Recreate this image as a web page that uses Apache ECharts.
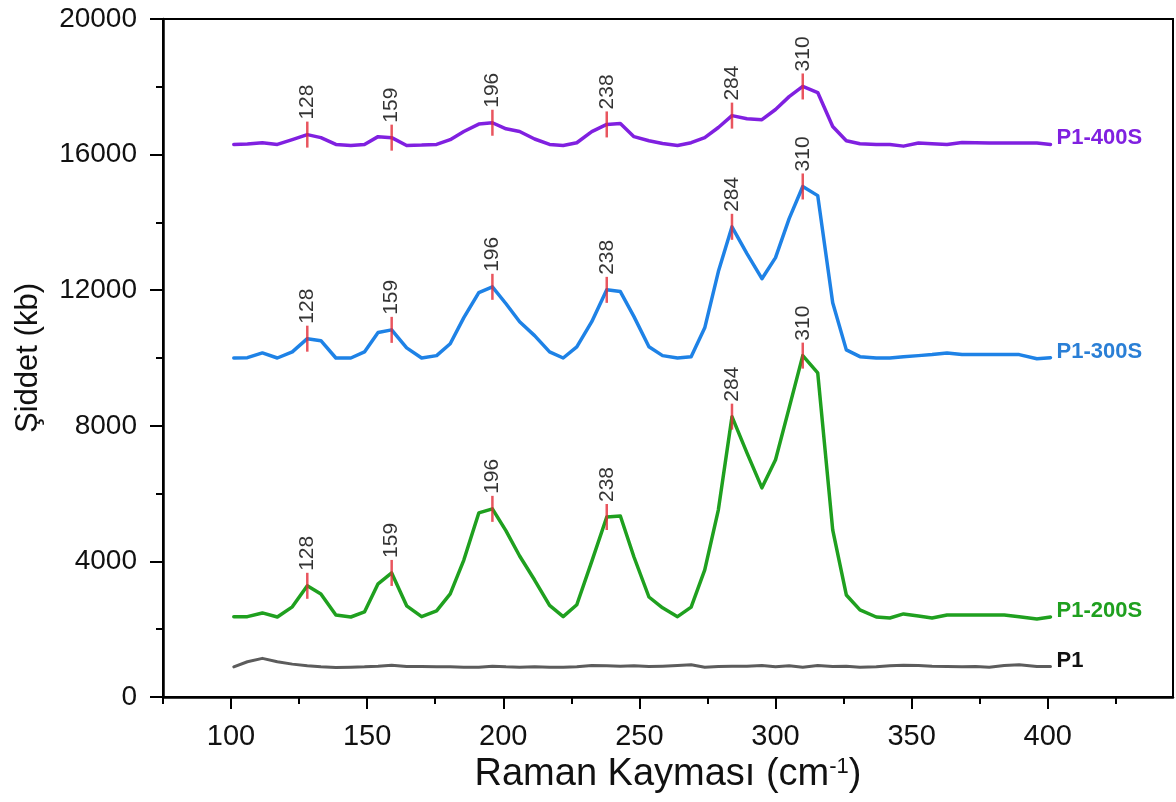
<!DOCTYPE html>
<html>
<head>
<meta charset="utf-8">
<title>Raman</title>
<script src="https://cdn.jsdelivr.net/npm/echarts@6/dist/echarts.min.js"></script>
<style>
  html, body { margin: 0; padding: 0; background: #fff; }
  #chart { width: 1176px; height: 802px; }
</style>
</head>
<body>
<div id="chart"></div>
<script>
// Raman shift sample positions (cm-1), shared by all spectra
const shift = [101, 106, 111.5, 117, 122.5, 128, 133, 138.5, 144, 149, 154, 159, 164.5, 170, 175.5, 180.5,
  185.5, 191, 196, 201, 206, 211.5, 217, 222, 227, 232.5, 238, 243, 248, 253.5, 258.5, 264, 269, 274, 279,
  284, 289.5, 295, 300, 305, 310, 315.5, 321, 326, 331, 337, 342, 347, 352.5, 357.5, 363, 368.5, 373.5,
  378.5, 384, 389.5, 396, 401];

// Intensities (counts), offset per sample as plotted
const p1 = [890, 1040, 1140, 1040, 970, 920, 890, 870, 880, 890, 910, 940, 900, 900, 890, 890,
  880, 880, 910, 890, 880, 890, 880, 880, 890, 930, 920, 910, 920, 900, 910, 930, 950, 880, 900,
  910, 910, 930, 890, 920, 880, 930, 900, 910, 880, 890, 920, 940, 930, 910, 900, 890, 900,
  880, 930, 950, 900, 900];

const p1_200s = [2370, 2370, 2480, 2360, 2660, 3280, 3040, 2420, 2360, 2510, 3340, 3660, 2690, 2370, 2540, 3040,
  4040, 5430, 5550, 4900, 4160, 3450, 2700, 2370, 2720, 4000, 5310, 5340, 4130, 2950, 2630, 2370, 2650, 3750, 5520,
  8270, 7200, 6170, 7000, 8530, 10070, 9560, 4930, 3010, 2570, 2360, 2330, 2450, 2390, 2330, 2420, 2420, 2420,
  2420, 2420, 2370, 2300, 2360];

const p1_300s = [10000, 10010, 10150, 10000, 10180, 10570, 10510, 10000, 10000, 10180, 10750, 10830, 10300, 10000, 10070, 10420,
  11190, 11930, 12100, 11600, 11070, 10660, 10180, 10000, 10330, 11070, 12010, 11960, 11220, 10330, 10070, 10000, 10040, 10890, 12550,
  13870, 13080, 12340, 12960, 14110, 15060, 14790, 11630, 10240, 10040, 10000, 10000, 10040, 10070, 10100, 10150, 10100, 10100,
  10100, 10100, 10100, 9980, 10010];

const p1_400s = [16300, 16310, 16350, 16300, 16440, 16590, 16500, 16300, 16270, 16300, 16530, 16500, 16270, 16280, 16300, 16440,
  16680, 16900, 16940, 16760, 16680, 16460, 16300, 16270, 16350, 16680, 16890, 16920, 16530, 16410, 16330, 16270, 16350, 16500, 16800,
  17150, 17060, 17030, 17330, 17710, 18010, 17830, 16830, 16410, 16320, 16300, 16300, 16250, 16340, 16320, 16300, 16360, 16350,
  16340, 16340, 16340, 16340, 16300];

// Assigned band positions (cm-1)
const peaks = [128, 159, 196, 238, 284, 310];

// Axis ticks
const xMajorTicks = [100, 150, 200, 250, 300, 350, 400];
const xMinorTicks = [75, 125, 175, 225, 275, 325, 375, 425];

const FONT = '"Liberation Sans", Arial, sans-serif';

const spectra = [
  { name: 'P1', values: p1, color: '#5c5c5c', labelColor: '#111111', width: 3, marked: false },
  { name: 'P1-200S', values: p1_200s, color: '#1fa01f', labelColor: '#1fa01f', width: 3.5, marked: true },
  { name: 'P1-300S', values: p1_300s, color: '#1e82e6', labelColor: '#2a7fd6', width: 3.5, marked: true },
  { name: 'P1-400S', values: p1_400s, color: '#8020e0', labelColor: '#8020e0', width: 3.5, marked: true }
];

function pairs(values) {
  return shift.map((x, i) => [x, values[i]]);
}

// Intensity of a spectrum at a given shift, read from its sampled points
function valueAt(values, x) {
  const i = shift.indexOf(x);
  if (i >= 0) return values[i];
  for (let k = 0; k < shift.length - 1; k++) {
    if (x >= shift[k] && x <= shift[k + 1]) {
      const t = (x - shift[k]) / (shift[k + 1] - shift[k]);
      return values[k] + t * (values[k + 1] - values[k]);
    }
  }
  return values[values.length - 1];
}

const series = [];
spectra.forEach(s => {
  series.push({
    name: s.name,
    type: 'line',
    xAxisIndex: 0,
    data: pairs(s.values),
    showSymbol: false,
    symbol: 'none',
    lineStyle: { color: s.color, width: s.width, join: 'round', cap: 'round' },
    itemStyle: { color: s.color },
    endLabel: {
      show: true,
      formatter: s.name,
      color: s.labelColor,
      fontFamily: FONT,
      fontWeight: 'bold',
      fontSize: 22,
      distance: 6,
      offset: [0, -6]
    },
    z: 2,
    silent: true
  });
});

spectra.filter(s => s.marked).forEach(s => {
  series.push({
    name: s.name + ' bands',
    type: 'scatter',
    xAxisIndex: 0,
    data: peaks.map(p => [p, valueAt(s.values, p)]),
    symbol: 'rect',
    symbolSize: [2.5, 26],
    itemStyle: { color: '#e32b36' },
    label: {
      show: true,
      position: 'top',
      distance: 2,
      rotate: 90,
      align: 'left',
      verticalAlign: 'middle',
      formatter: p => String(p.value[0]),
      color: '#000000',
      fontFamily: FONT,
      fontSize: 21
    },
    z: 5,
    silent: true
  });
});

const chart = echarts.init(document.getElementById('chart'), null, { renderer: 'canvas' });

chart.setOption({
  animation: false,
  backgroundColor: '#ffffff',
  grid: {
    left: 163, right: 3, top: 19, bottom: 105,
    show: true, borderColor: '#000', borderWidth: 2, backgroundColor: 'transparent'
  },
  xAxis: [
    {
      type: 'value',
      min: 75, max: 446,
      name: 'Raman Kayması (cm{sup|-1})',
      nameLocation: 'middle',
      nameGap: 49,
      nameTextStyle: {
        fontFamily: FONT, fontSize: 38, color: '#111',
        rich: { sup: { fontFamily: FONT, fontSize: 22, color: '#111', verticalAlign: 'top', lineHeight: 38 } }
      },
      axisLine: { show: true, onZero: false, lineStyle: { color: '#000', width: 2.5 } },
      axisTick: { show: true, customValues: xMajorTicks, length: 12, lineStyle: { color: '#000', width: 2 } },
      axisLabel: {
        show: true, customValues: xMajorTicks, margin: 25,
        fontFamily: FONT, fontSize: 29, color: '#111',
        formatter: v => String(v)
      },
      splitLine: { show: false }
    },
    {
      type: 'value',
      min: 75, max: 446,
      position: 'bottom',
      axisLine: { show: false, onZero: false },
      axisTick: { show: true, customValues: xMinorTicks, length: 7, lineStyle: { color: '#000', width: 2 } },
      axisLabel: { show: false },
      splitLine: { show: false }
    }
  ],
  yAxis: {
    type: 'value',
    min: 0, max: 20000, interval: 4000,
    name: 'Şiddet (kb)',
    nameLocation: 'middle',
    nameRotate: 90,
    nameGap: 119,
    nameTextStyle: { fontFamily: FONT, fontSize: 31, color: '#111' },
    axisLine: { show: true, onZero: false, lineStyle: { color: '#000', width: 2.5 } },
    axisTick: { show: true, length: 13, lineStyle: { color: '#000', width: 2 } },
    minorTick: { show: true, splitNumber: 2, length: 7, lineStyle: { color: '#000', width: 2 } },
    axisLabel: {
      margin: 26, fontFamily: FONT, fontSize: 28, color: '#111',
      formatter: v => String(v)
    },
    splitLine: { show: false },
    minorSplitLine: { show: false }
  },
  series: series
});
</script>
</body>
</html>
